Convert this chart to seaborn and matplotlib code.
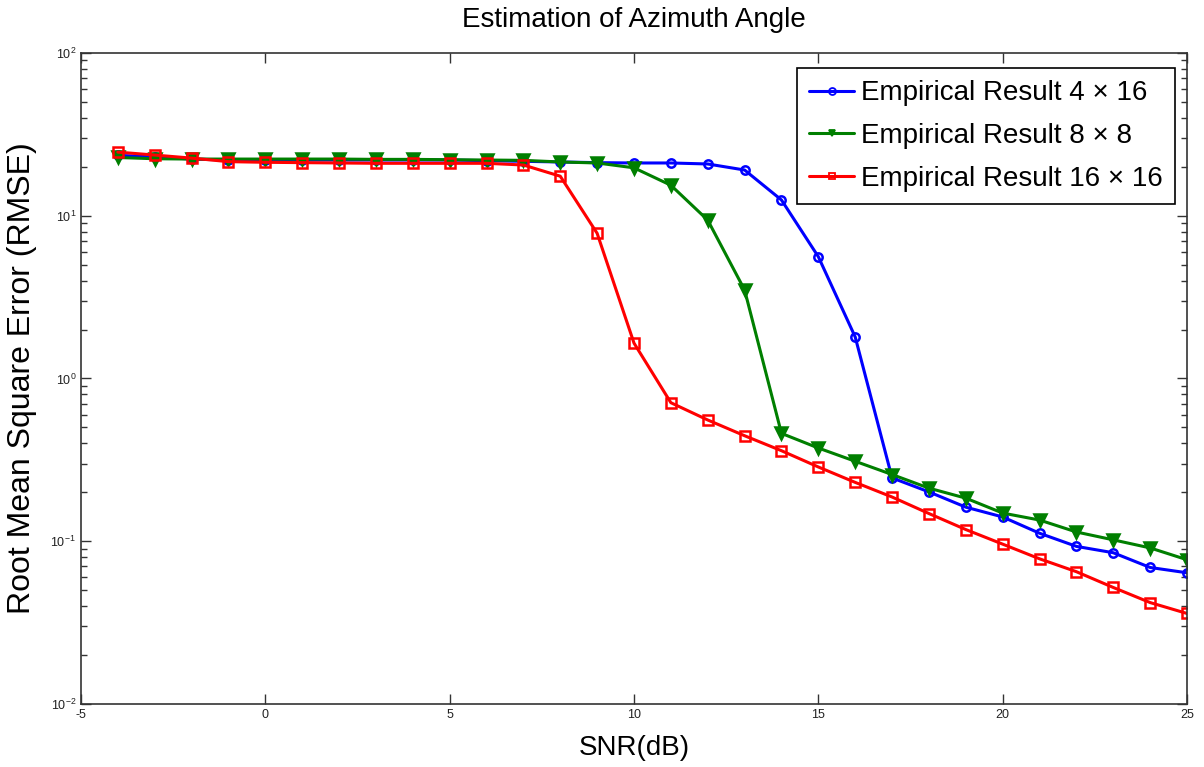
import numpy as np
import pandas as pd
import matplotlib
matplotlib.use('Agg')
import matplotlib.pyplot as plt
import seaborn as sns

# SNR values in dB
snr = list(range(-4, 26))

# RMSE, one list per array configuration
rmse_4x16 = [23.5, 23.0, 22.3, 22.0, 22.0, 22.0, 22.0, 22.0, 22.0, 22.0, 21.8,
             21.6, 21.4, 21.2, 21.1, 21.1, 20.8, 19.1, 12.5, 5.6, 1.8,
             0.245, 0.201, 0.162, 0.141, 0.112, 0.093, 0.085, 0.069, 0.064]
rmse_8x8 = [22.8, 22.4, 22.3, 22.3, 22.3, 22.3, 22.3, 22.2, 22.2, 22.1, 22.0,
            21.9, 21.4, 21.1, 19.7, 15.4, 9.4, 3.5, 0.46, 0.374, 0.31,
            0.257, 0.212, 0.184, 0.149, 0.135, 0.114, 0.102, 0.091, 0.077]
rmse_16x16 = [24.6, 23.6, 22.6, 21.5, 21.3, 21.2, 21.1, 21.0, 21.0, 21.0, 21.0,
              20.5, 17.5, 7.8, 1.65, 0.71, 0.556, 0.445, 0.36, 0.286, 0.23,
              0.187, 0.148, 0.118, 0.096, 0.078, 0.065, 0.052, 0.042, 0.036]

labels = ['Empirical Result 4 \u00d7 16', 'Empirical Result 8 \u00d7 8',
          'Empirical Result 16 \u00d7 16']

sns.set_theme(style="ticks")
plt.rcParams['font.family'] = ['Liberation Sans', 'DejaVu Sans']
plt.rcParams['text.color'] = 'black'
plt.rcParams['axes.labelcolor'] = 'black'
plt.rcParams['axes.unicode_minus'] = False
plt.rcParams['mathtext.fontset'] = 'custom'
plt.rcParams['mathtext.rm'] = 'Liberation Sans'

fig = plt.figure(figsize=(12.04, 7.67), dpi=100)
ax = fig.add_axes([81 / 1204, 1 - 704 / 767, (1187 - 81) / 1204, (704 - 53) / 767])

series = [
    (rmse_4x16, labels[0], '#0000ff', 'o', 6, 'none'),
    (rmse_8x8, labels[1], '#007f00', 'v', 8, '#007f00'),
    (rmse_16x16, labels[2], '#ff0000', 's', 7, 'none'),
]
for vals, lab, col, mk, ms, mfc in series:
    df = pd.DataFrame({'SNR': snr, 'RMSE': vals})
    sns.lineplot(data=df, x='SNR', y='RMSE', ax=ax, color=col, marker=mk,
                 markersize=ms, markerfacecolor=mfc, markeredgecolor=col,
                 markeredgewidth=1.8, linewidth=2.2, label=lab)

ax.set_yscale('log')
ax.set_xlim(-5, 25)
ax.set_ylim(1e-2, 1e2)
ax.set_xticks([-5, 0, 5, 10, 15, 20, 25])
ax.tick_params(which='both', top=True, right=True, direction='in', colors='#333333')
ax.tick_params(which='major', length=7, width=1, labelsize=9, labelcolor='#222222')
ax.tick_params(which='minor', length=4, width=1)
for s in ax.spines.values():
    s.set_color('#333333')
    s.set_linewidth(1.2)

ax.set_title('Estimation of Azimuth Angle', fontsize=20, pad=19)
ax.set_xlabel('SNR(dB)', fontsize=20, labelpad=10)
ax.set_ylabel('Root Mean Square Error (RMSE)', fontsize=23, labelpad=10)

leg = ax.legend(loc='upper right', bbox_to_anchor=(1175 / 1204, 1 - 68 / 767),
                bbox_transform=fig.transFigure, borderaxespad=0, fontsize=20,
                fancybox=False, framealpha=1, edgecolor='black',
                handlelength=1.6, handletextpad=0.25, labelspacing=0.6,
                borderpad=0.45)
leg.get_frame().set_linewidth(1.2)
for h in leg.legend_handles:
    h.set_markersize(5)
    h.set_markeredgewidth(1.3)

fig.savefig('out.png', dpi=100)
